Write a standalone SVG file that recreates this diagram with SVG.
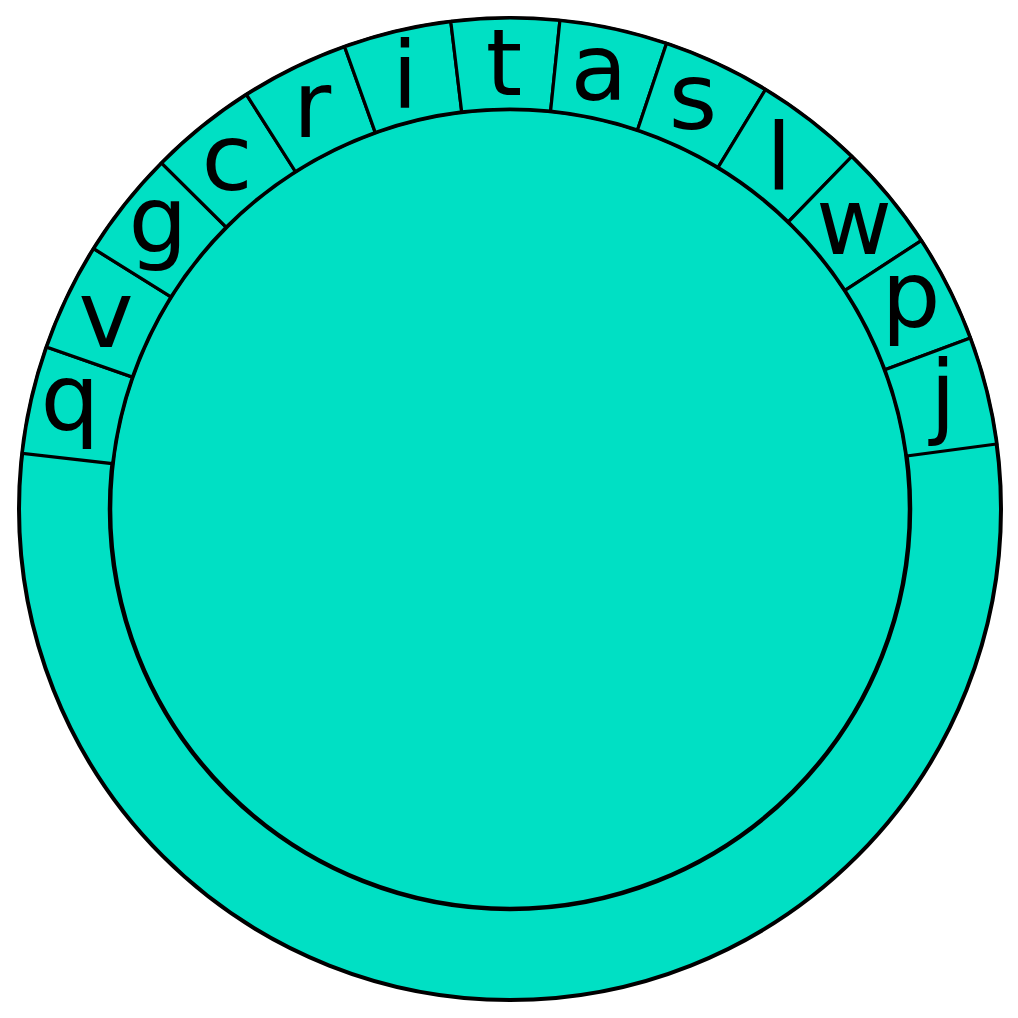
<svg xmlns="http://www.w3.org/2000/svg" width="1018" height="1018" viewBox="0 0 1018 1018">
<style>
.disk{fill:#00e0c4;stroke:#000}
.seg{fill:#00e0c4;stroke:#000;stroke-width:3.2;stroke-linejoin:miter}
.lbl{font-family:"DejaVu Sans",sans-serif;font-size:93px;fill:#000;text-anchor:middle}
</style>
<rect width="1018" height="1018" fill="#fff"/>
<g id="outer"><circle class="disk" cx="510" cy="509" r="491" stroke-width="4"/></g>
<g id="inner"><circle class="disk" cx="510" cy="509" r="400" stroke-width="4.5"/></g>
<g id="segments">
<g id="seg-q"><path class="seg" d="M22.2,453.4 A491,491 0 0 1 46.5,347.1 L132.4,377.1 A400,400 0 0 0 112.6,463.7 Z"/><text class="lbl" x="70" y="430">q</text></g>
<g id="seg-v"><path class="seg" d="M46.5,347.1 A491,491 0 0 1 93.7,248.7 L170.9,296.9 A400,400 0 0 0 132.4,377.1 Z"/><text class="lbl" x="106" y="347">v</text></g>
<g id="seg-g"><path class="seg" d="M93.7,248.7 A491,491 0 0 1 161.6,163.1 L226.1,227.2 A400,400 0 0 0 170.9,296.9 Z"/><text class="lbl" x="158" y="252">g</text></g>
<g id="seg-c"><path class="seg" d="M161.6,163.1 A491,491 0 0 1 246.5,94.7 L295.4,171.5 A400,400 0 0 0 226.1,227.2 Z"/><text class="lbl" x="227" y="190">c</text></g>
<g id="seg-r"><path class="seg" d="M246.5,94.7 A491,491 0 0 1 344.6,46.7 L375.2,132.4 A400,400 0 0 0 295.4,171.5 Z"/><text class="lbl" x="312" y="137">r</text></g>
<g id="seg-i"><path class="seg" d="M344.6,46.7 A491,491 0 0 1 450.8,21.6 L461.7,111.9 A400,400 0 0 0 375.2,132.4 Z"/><text class="lbl" x="405" y="108">i</text></g>
<g id="seg-t"><path class="seg" d="M450.8,21.6 A491,491 0 0 1 559.9,20.5 L550.6,111.1 A400,400 0 0 0 461.7,111.9 Z"/><text class="lbl" x="504" y="95">t</text></g>
<g id="seg-a"><path class="seg" d="M559.9,20.5 A491,491 0 0 1 666.5,43.6 L637.5,129.9 A400,400 0 0 0 550.6,111.1 Z"/><text class="lbl" x="599" y="100">a</text></g>
<g id="seg-s"><path class="seg" d="M666.5,43.6 A491,491 0 0 1 765.4,89.7 L718.1,167.4 A400,400 0 0 0 637.5,129.9 Z"/><text class="lbl" x="693" y="129">s</text></g>
<g id="seg-l"><path class="seg" d="M765.4,89.7 A491,491 0 0 1 851.8,156.5 L788.4,221.8 A400,400 0 0 0 718.1,167.4 Z"/><text class="lbl" x="779" y="190">l</text></g>
<g id="seg-w"><path class="seg" d="M851.8,156.5 A491,491 0 0 1 921.2,240.6 L845.0,290.4 A400,400 0 0 0 788.4,221.8 Z"/><text class="lbl" x="854" y="254">w</text></g>
<g id="seg-p"><path class="seg" d="M921.2,240.6 A491,491 0 0 1 970.3,338.1 L885.0,369.8 A400,400 0 0 0 845.0,290.4 Z"/><text class="lbl" x="911" y="327">p</text></g>
<g id="seg-j"><path class="seg" d="M970.3,338.1 A491,491 0 0 1 996.7,444.0 L906.5,456.0 A400,400 0 0 0 885.0,369.8 Z"/><text class="lbl" x="943" y="427">j</text></g>
</g>
</svg>
